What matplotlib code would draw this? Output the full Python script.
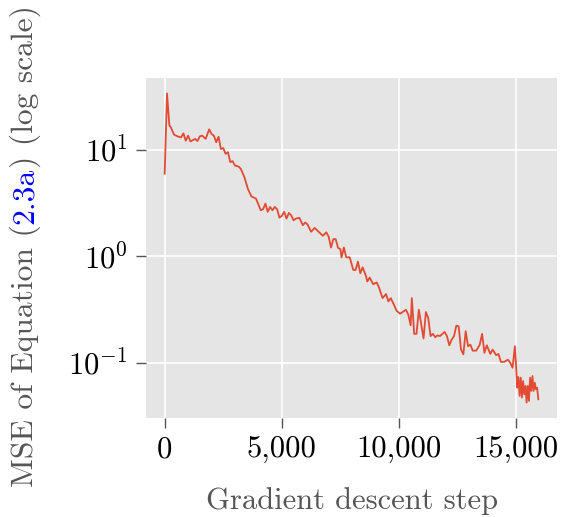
import matplotlib
matplotlib.use("Agg")
import matplotlib.pyplot as plt
from matplotlib.ticker import FuncFormatter, NullLocator, LogLocator

steps = [0, 100, 200, 250, 400, 550, 700, 800, 900, 1000,
         1100, 1300, 1400, 1500, 1600, 1750, 1900, 2000, 2100, 2200,
         2300, 2400, 2500, 2600, 2700, 2800, 2900, 3000, 3150, 3250,
         3400, 3550, 3700, 3900, 4100, 4200, 4300, 4400, 4500, 4600,
         4700, 4800, 4900, 5000, 5100, 5200, 5300, 5400, 5500, 5600,
         5750, 5900, 6000, 6100, 6250, 6400, 6600, 6750, 6900, 7000,
         7100, 7200, 7300, 7400, 7500, 7550, 7650, 7750, 7900, 8050,
         8150, 8250, 8350, 8450, 8600, 8650, 8750, 8900, 9050, 9150,
         9300, 9450, 9550, 9650, 9800, 9900, 10050, 10200, 10300, 10400,
         10500, 10550, 10650, 10750, 10850, 11050, 11150, 11250, 11350, 11450,
         11550, 11650, 11750, 11950, 12050, 12150, 12250, 12350, 12450, 12550,
         12650, 12750, 12850, 12950, 13050, 13150, 13300, 13450, 13550, 13650,
         13750, 13900, 14000, 14150, 14250, 14350, 14500, 14650, 14750, 14850,
         14950, 15000, 15050, 15100, 15150, 15200, 15250, 15300, 15350, 15400,
         15450, 15500, 15550, 15600, 15650, 15700, 15750, 15800, 15850, 15900,
         15950]

mse = [5.97, 33.9, 16.9, 16.5, 13.9, 13.4, 13.1, 14.3, 12.2, 13.6,
       12.0, 12.7, 12.1, 13.4, 13.6, 12.7, 15.6, 14.1, 13.6, 11.8,
       13.3, 10.2, 10.4, 9.18, 9.52, 7.68, 7.84, 7.13, 6.98, 6.64,
       5.56, 4.32, 3.66, 3.48, 2.71, 2.77, 3.13, 2.62, 2.91, 2.71,
       2.91, 2.77, 2.31, 2.40, 2.62, 2.26, 2.56, 2.43, 2.18, 2.26,
       2.30, 1.96, 2.08, 1.99, 1.70, 1.85, 1.68, 1.56, 1.68, 1.53,
       1.21, 1.45, 1.45, 1.20, 1.17, 0.975, 1.21, 0.979, 0.979, 0.745,
       0.745, 0.892, 0.693, 0.789, 0.646, 0.580, 0.632, 0.547, 0.568, 0.509,
       0.405, 0.442, 0.377, 0.405, 0.346, 0.308, 0.289, 0.304, 0.315, 0.283,
       0.225, 0.405, 0.187, 0.187, 0.315, 0.169, 0.300, 0.264, 0.178, 0.187,
       0.174, 0.181, 0.178, 0.195, 0.178, 0.146, 0.165, 0.178, 0.223, 0.220,
       0.133, 0.120, 0.198, 0.143, 0.148, 0.130, 0.130, 0.148, 0.187, 0.124,
       0.146, 0.121, 0.133, 0.118, 0.121, 0.102, 0.102, 0.107, 0.100, 0.0898,
       0.143, 0.0938, 0.0583, 0.0735, 0.0489, 0.0725, 0.0471, 0.0675, 0.0506, 0.0606,
       0.0423, 0.0606, 0.0439, 0.0725, 0.0544, 0.0751, 0.0544, 0.0650, 0.0563, 0.0583,
       0.0454]

xticks = [0, 5000, 10000, 15000]
xlabel = "Gradient descent step"
ylabel_parts = ["MSE of Equation (", "2.3a", ") (log scale)"]
ylabel_colors = ["#555555", "#0000FF", "#555555"]

plt.rcParams["font.family"] = "serif"
plt.rcParams["font.serif"] = ["cmr10", "DejaVu Serif"]
plt.rcParams["mathtext.fontset"] = "cm"
plt.rcParams["axes.unicode_minus"] = False

FS = 22
FS_Y = 22.7
W, H = 573, 517
fig = plt.figure(figsize=(W / 100, H / 100), dpi=100)
ax = fig.add_axes([146 / W, 1 - 418 / H, 411 / W, 340 / H])
ax.set_facecolor("#E5E5E5")
for s in ax.spines.values():
    s.set_visible(False)

ax.plot(steps, mse, color="#E24A33", lw=1.3)
ax.set_yscale("log")
ax.yaxis.set_major_locator(LogLocator(base=10))
ax.yaxis.set_minor_locator(NullLocator())
ax.set_xticks(xticks)
ax.xaxis.set_major_formatter(FuncFormatter(lambda v, p: f"{int(v):,}"))
ax.grid(True, color="white", lw=1.2)
ax.set_axisbelow(True)
ax.tick_params(axis="both", which="major", direction="out", length=7,
               width=1, color="#555555", labelcolor="black", labelsize=FS, pad=6)

ax.set_xlabel(xlabel, fontsize=FS, color="#555555", labelpad=17)

# y label in coloured pieces
fig.canvas.draw()
renderer = fig.canvas.get_renderer()
y = 1 - 487 / H
xb = 33 / W
for txt, col in zip(ylabel_parts, ylabel_colors):
    t = fig.text(xb, y, txt, rotation=90, rotation_mode="anchor", ha="left",
                 va="baseline", fontsize=FS_Y, color=col)
    bb = t.get_window_extent(renderer=renderer)
    y += bb.height / H

fig.savefig("out.png", dpi=100)
